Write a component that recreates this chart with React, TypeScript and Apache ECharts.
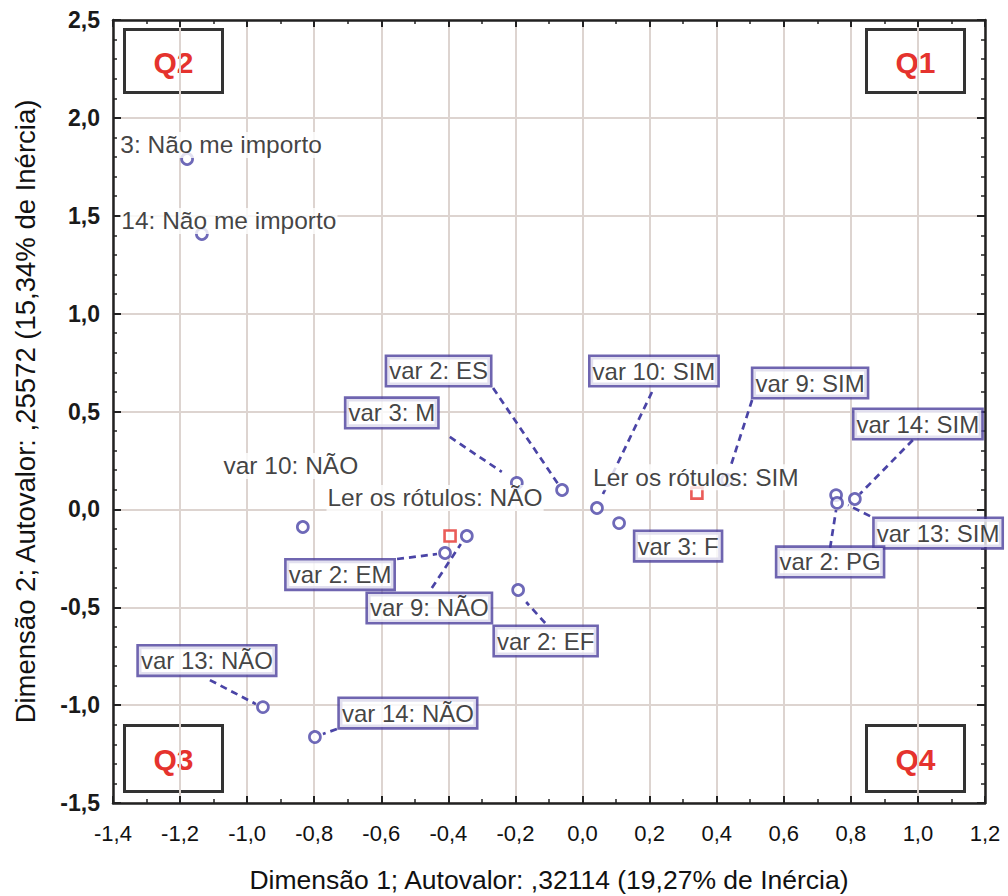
import React, { useEffect, useRef } from "react";
import * as echarts from "echarts";

// ---- Data ----
const varNames = [
  "3: Não me importo",
  "14: Não me importo",
  "var 10: NÃO",
  "var 3: M",
  "var 2: ES",
  "var 9: NÃO",
  "var 2: EM",
  "var 2: EF",
  "var 13: NÃO",
  "var 14: NÃO",
  "var 10: SIM",
  "var 3: F",
  "var 9: SIM",
  "var 13: SIM",
  "var 2: PG",
  "var 14: SIM",
];
const varDim1 = [-1.179, -1.135, -0.834, -0.196, -0.061, -0.345, -0.41, -0.192, -0.953, -0.798, 0.043, 0.109, 0.431, 0.756, 0.759, 0.812];
const varDim2 = [1.79, 1.407, -0.09, 0.135, 0.099, -0.136, -0.223, -0.412, -1.01, -1.163, 0.007, -0.07, 0.15, 0.073, 0.033, 0.053];

const rowNames = ["Ler os rótulos: NÃO", "Ler os rótulos: SIM"];
const rowDim1 = [-0.395, 0.341];
const rowDim2 = [-0.136, 0.083];

const quadrantNames = ["Q2", "Q1", "Q3", "Q4"];

const xAxisTitle = "Dimensão 1; Autovalor: ,32114 (19,27% de Inércia)";
const yAxisTitle = "Dimensão 2; Autovalor: ,25572 (15,34% de Inércia)";

// ---- Label placement (layout only): [dx, dy of label centre from its point, boxed] ----
const labelPlacement: Record<string, [number, number, boolean]> = {
  "3: Não me importo": [34, -14, false],
  "14: Não me importo": [27, -13, false],
  "var 10: NÃO": [-12, -61, false],
  "var 3: M": [-125, -70, true],
  "var 2: ES": [-123.5, -119, true],
  "var 9: NÃO": [-37.5, 72, true],
  "var 2: EM": [-105, 21.5, true],
  "var 2: EF": [27.5, 51, true],
  "var 13: NÃO": [-56, -46.5, true],
  "var 14: NÃO": [93, -24, true],
  "var 10: SIM": [57, -137, true],
  "var 3: F": [59, 23, true],
  "var 9: SIM": [83, -97, true],
  "var 13: SIM": [102, 38, true],
  "var 2: PG": [-7, 59, true],
  "var 14: SIM": [63, -75, true],
  "Ler os rótulos: NÃO": [-15, -38, false],
  "Ler os rótulos: SIM": [-1, -16, false],
};

// ---- Leader lines (layout only): [x1, y1, x2, y2] pixel offsets from the point ----
const leaderOffsets: Record<string, [number, number, number, number]> = {
  "var 2: ES": [-69, -102, -4, -6],
  "var 3: M": [-67, -46, -15, -11],
  "var 10: SIM": [55, -116, 6, -14],
  "var 9: SIM": [25, -80, 3, -12],
  "var 14: SIM": [58, -59, 5, -5],
  "var 13: SIM": [34, 21, 12, 10],
  "var 2: PG": [-7, 45, -1, 7],
  "var 2: EM": [-48, 6, -8, 1],
  "var 9: NÃO": [-35, 52, -6, 8],
  "var 2: EF": [27, 33, 8, 12],
  "var 13: NÃO": [-53, -27, -7, -3],
  "var 14: NÃO": [22, -8, 8, -3],
};

const FONT = "'Liberation Sans', Arial, Helvetica, sans-serif";
const BLUE = "#4a44a6";
const BOX = "#4b3f9c";
const RED = "#e5332e";
const INK = "#111111";

export default function App() {
  const ref = useRef<HTMLDivElement>(null);

  useEffect(() => {
    if (!ref.current) return;
    const chart = echarts.init(ref.current, null, { renderer: "svg" });
    const fmt = (v: number) => v.toFixed(1).replace(".", ",");

    const boxedLabel = {
      show: true,
      formatter: "{b}",
      position: "inside",
      fontSize: 24,
      lineHeight: 24,
      fontFamily: FONT,
      color: INK,
      backgroundColor: "#ffffff",
      borderColor: BOX,
      borderWidth: 2.6,
      padding: [2, 2, 2, 2],
    };
    const plainLabel = {
      show: true,
      formatter: "{b}",
      position: "inside",
      fontSize: 24.5,
      lineHeight: 24,
      fontFamily: FONT,
      color: INK,
      backgroundColor: "#ffffff",
      padding: [0, 1, 2, 1],
    };

    const makeItem = (name: string, x: number, y: number) => {
      const p = labelPlacement[name];
      return {
        name,
        value: [x, y],
        label: p[2] ? boxedLabel : plainLabel,
      };
    };

    const labelLayout = (params: any) => {
      const p = labelPlacement[params.text];
      if (!p) return {};
      return {
        x: params.rect.x + params.rect.width / 2 + p[0],
        y: params.rect.y + params.rect.height / 2 + p[1],
        align: "center",
        verticalAlign: "middle",
      };
    };

    const leaderIdx = varNames.map((n, i) => i).filter((i) => leaderOffsets[varNames[i]]);

    const axisTickStyle = { color: "#222", width: 2 };
    const grid = { left: 113, top: 20, width: 872, height: 783, outerBoundsMode: "none", containLabel: false };

    const qBox = (name: string, left: number, top: number, h: number) => ({
      type: "group",
      left,
      top,
      children: [
        {
          type: "rect",
          shape: { x: 0, y: 0, width: 98, height: h },
          style: { fill: "#ffffff", stroke: "#333333", lineWidth: 3 },
        },
        {
          type: "text",
          x: 49,
          y: h / 2 + 1,
          style: {
            text: name,
            fill: RED,
            font: "bold 30px " + FONT,
            align: "center",
            verticalAlign: "middle",
          },
        },
      ],
    });

    const frameAxisLine = { show: true, onZero: false, lineStyle: { color: "#222", width: 2.5 } };

    chart.setOption({
      animation: false,
      backgroundColor: "#ffffff",
      grid,
      xAxis: [
        {
          type: "value",
          min: -1.4,
          max: 1.2,
          interval: 0.2,
          position: "bottom",
          axisLine: frameAxisLine,
          axisTick: { show: true, inside: true, length: 7, lineStyle: axisTickStyle },
          minorTick: { show: true, splitNumber: 2, length: 4, lineStyle: { color: "#222", width: 1.5 } },
          axisLabel: { formatter: fmt, fontSize: 22, color: INK, margin: 19, fontFamily: FONT },
          splitLine: { show: true, lineStyle: { color: "#ddd4d0", width: 2 } },
          name: xAxisTitle,
          nameLocation: "middle",
          nameGap: 63,
          nameTextStyle: { fontSize: 26.5, color: INK, fontFamily: FONT },
        },
        {
          type: "value",
          min: -1.4,
          max: 1.2,
          interval: 0.2,
          position: "top",
          axisLine: frameAxisLine,
          axisTick: { show: true, inside: true, length: 7, lineStyle: axisTickStyle },
          minorTick: { show: true, splitNumber: 2, length: 4, lineStyle: { color: "#222", width: 1.5 } },
          axisLabel: { show: false },
          splitLine: { show: false },
        },
      ],
      yAxis: [
        {
          type: "value",
          min: -1.5,
          max: 2.5,
          interval: 0.5,
          position: "left",
          axisLine: frameAxisLine,
          axisTick: { show: true, inside: true, length: 8, lineStyle: axisTickStyle },
          minorTick: { show: true, splitNumber: 5, length: 4, lineStyle: { color: "#222", width: 1.5 } },
          axisLabel: { formatter: fmt, fontSize: 23, fontWeight: "bold", color: "#1a1a1a", margin: 13, fontFamily: FONT },
          splitLine: { show: true, lineStyle: { color: "#ddd4d0", width: 2 } },
          name: yAxisTitle,
          nameLocation: "middle",
          nameRotate: 90,
          nameGap: 74,
          nameTextStyle: { fontSize: 27.5, color: INK, fontFamily: FONT },
        },
        {
          type: "value",
          min: -1.5,
          max: 2.5,
          interval: 0.5,
          position: "right",
          axisLine: frameAxisLine,
          axisTick: { show: true, inside: true, length: 8, lineStyle: axisTickStyle },
          minorTick: { show: true, splitNumber: 5, length: 4, lineStyle: { color: "#222", width: 1.5 } },
          axisLabel: { show: false },
          splitLine: { show: false },
        },
      ],
      graphic: [
        qBox(quadrantNames[0], 123, 28, 63),
        qBox(quadrantNames[1], 865, 28, 63),
        qBox(quadrantNames[2], 123, 724, 66),
        qBox(quadrantNames[3], 865, 724, 66),
      ],
      series: [
        {
          name: "Ligações",
          type: "custom",
          coordinateSystem: "cartesian2d",
          silent: true,
          z: 2,
          encode: { x: 0, y: 1 },
          data: leaderIdx.map((i) => [varDim1[i], varDim2[i], i]),
          renderItem: (params: any, api: any) => {
            const o = leaderOffsets[varNames[api.value(2)]];
            const c = api.coord([api.value(0), api.value(1)]);
            return {
              type: "line",
              shape: { x1: c[0] + o[0], y1: c[1] + o[1], x2: c[0] + o[2], y2: c[1] + o[3] },
              style: { stroke: BLUE, lineWidth: 2.7, lineDash: [7, 5], fill: "none" },
            };
          },
        },
        {
          name: "Variáveis",
          type: "scatter",
          symbol: "circle",
          symbolSize: 11,
          itemStyle: { color: "#ffffff", borderColor: BLUE, borderWidth: 2.7 },
          data: varNames.map((n, i) => makeItem(n, varDim1[i], varDim2[i])),
          labelLayout,
          z: 3,
        },
        {
          name: "Ler os rótulos",
          type: "scatter",
          symbol: "rect",
          symbolSize: 11,
          itemStyle: { color: "#ffffff", borderColor: RED, borderWidth: 2.6 },
          data: rowNames.map((n, i) => makeItem(n, rowDim1[i], rowDim2[i])),
          labelLayout,
          z: 4,
        },
      ],
    });

    return () => chart.dispose();
  }, []);

  return (
    <div
      ref={ref}
      style={{ position: "absolute", left: 0, top: 0, width: 1008, height: 896 }}
    />
  );
}
